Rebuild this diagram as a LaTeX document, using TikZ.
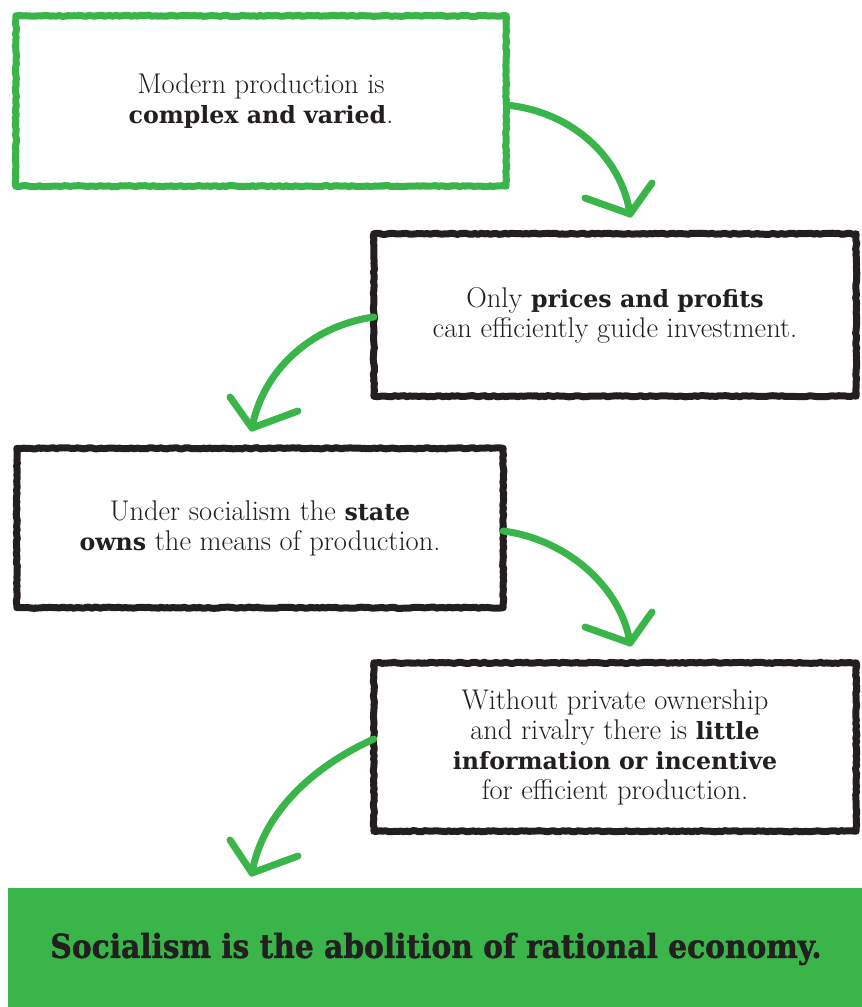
\documentclass[tikz,border=0pt]{standalone}
\usepackage{fontspec}
\usetikzlibrary{decorations.pathmorphing}
\newfontfamily\slab{DejaVu Serif}[Scale=MatchLowercase]
\newfontfamily\headfont{DejaVu Serif Condensed}[BoldFeatures={FakeBold=1.3}]
\newcommand\bslab[1]{{\slab\bfseries #1}}
\definecolor{grn}{HTML}{3AB54A}
\definecolor{ink}{HTML}{231F20}
\tikzset{
  boxnode/.style={rectangle, draw=none, align=center, text=ink, inner sep=0pt,
    font=\fontsize{28.5}{30}\selectfont},
  roughline/.style={line width=7pt, line join=round, decorate,
    decoration={random steps, segment length=3pt, amplitude=0.6pt}},
  roughthin/.style={line width=2.5pt, line join=round, decorate,
    decoration={random steps, segment length=2pt, amplitude=2pt}},
  curvearrow/.style={draw=grn, line width=7pt, line cap=round, line join=round},
  headbox/.style={rectangle, fill=grn, draw=none, inner sep=0pt}
}
\begin{document}
\begin{tikzpicture}[x=1pt, y=-1pt]
\pgfmathsetseed{7}
\useasboundingbox (0,0) rectangle (862,1007);
\fill[white] (0,0) rectangle (862,1007);

% boxes
\node[boxnode, minimum width=490pt, minimum height=170pt] (b1) at (261,101)
  {Modern production is\\\bslab{complex and varied}.};
\node[boxnode, minimum width=482pt, minimum height=162pt] (b2) at (615,315)
  {Only \bslab{prices and profits}\\can efficiently guide investment.};
\node[boxnode, minimum width=486pt, minimum height=159pt] (b3) at (260,528)
  {Under socialism the \bslab{state}\\\bslab{owns} the means of production.};
\node[boxnode, minimum width=482pt, minimum height=168pt] (b4) at (615,747)
  {Without private ownership\\and rivalry there is \bslab{little}\\\bslab{information or incentive}\\for efficient production.};

% rough borders
\draw[grn, roughline] (b1.north west) rectangle (b1.south east);
\draw[grn, roughthin] (b1.north west) rectangle (b1.south east);
\foreach \b in {b2,b3,b4}{
  \draw[ink, roughline] (\b.north west) rectangle (\b.south east);
  \draw[ink, roughthin] (\b.north west) rectangle (\b.south east);
}

% conclusion
\node[headbox, minimum width=854pt, minimum height=119pt, anchor=north west] (c) at (8,888) {};
\node[font=\headfont\bfseries\fontsize{33}{38}\selectfont, text=ink] (ct) at (436,949)
  {Socialism is the abolition of rational economy.};

% arrows
\coordinate (s1) at ([yshift=-4pt]b1.east);
\coordinate (t1) at (630,214);
\coordinate (l1) at (585,198);
\coordinate (r1) at (652,183);
\draw[curvearrow] (s1) .. controls (575,112) and (622,160) .. (t1);
\draw[curvearrow] (l1) -- (t1) -- (r1);

\coordinate (s2) at ([yshift=-2pt]b2.west);
\coordinate (t2) at (252,428);
\coordinate (l2) at (230,397);
\coordinate (r2) at (298,411);
\draw[curvearrow] (s2) .. controls (310,326) and (262,372) .. (t2);
\draw[curvearrow] (l2) -- (t2) -- (r2);

\coordinate (s3) at ([yshift=-3pt]b3.east);
\coordinate (t3) at (630,643);
\coordinate (l3) at (585,627);
\coordinate (r3) at (652,612);
\draw[curvearrow] (s3) .. controls (570,540) and (622,590) .. (t3);
\draw[curvearrow] (l3) -- (t3) -- (r3);

\coordinate (s4) at ([yshift=8pt]b4.west);
\coordinate (t4) at (252,873);
\coordinate (l4) at (230,840);
\coordinate (r4) at (298,856);
\draw[curvearrow] (s4) .. controls (310,768) and (262,815) .. (t4);
\draw[curvearrow] (l4) -- (t4) -- (r4);
\end{tikzpicture}
\end{document}
